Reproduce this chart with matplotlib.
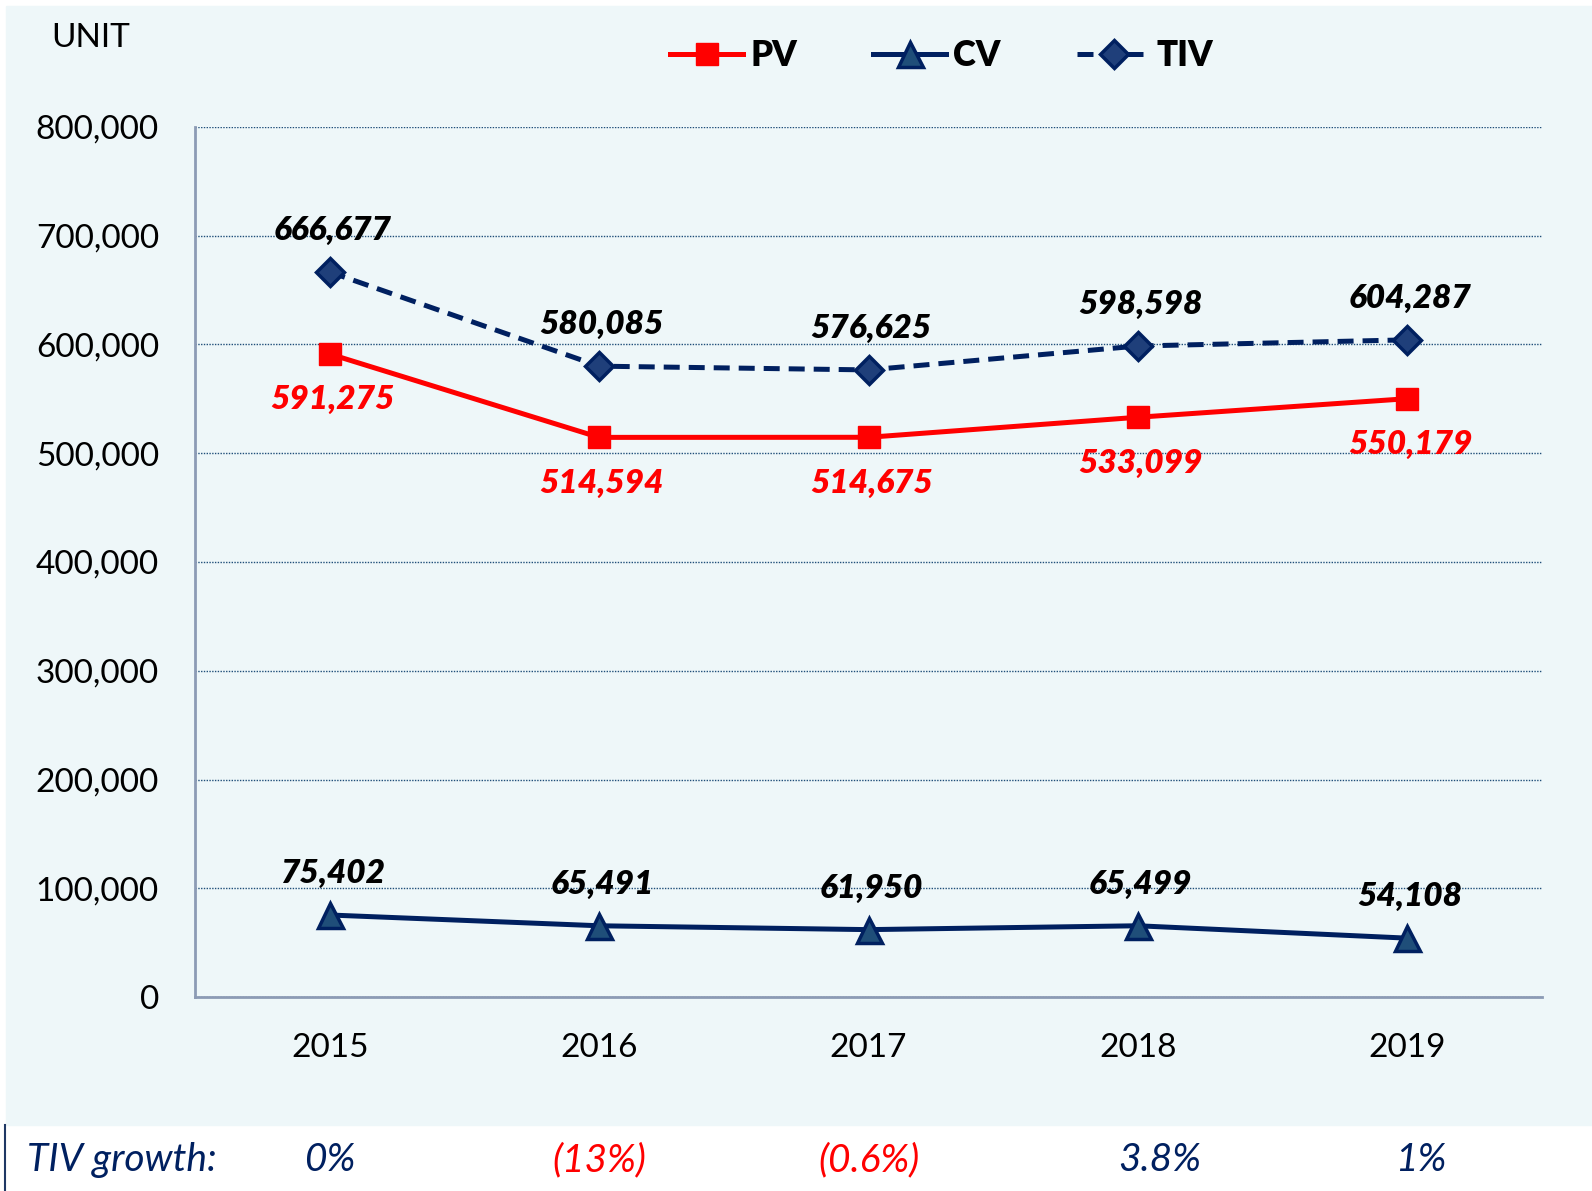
import matplotlib
matplotlib.use("Agg")
import matplotlib.pyplot as plt
import matplotlib.patches as mpatches
import matplotlib.transforms as mtransforms
from matplotlib.ticker import FuncFormatter, MultipleLocator

plt.rcParams['font.family'] = ['Lato', 'DejaVu Sans']

years = ['2015', '2016', '2017', '2018', '2019']
pv = [591275, 514594, 514675, 533099, 550179]
cv = [75402, 65491, 61950, 65499, 54108]
tiv = [666677, 580085, 576625, 598598, 604287]
growth = ['0%', '(13%)', '(0.6%)', '3.8%', '1%']
growth_shift = [0, 0, 0, 0.08, 0.05]

navy = '#002060'
red = '#FF0000'
panel = '#EEF7F9'
fs = 24

fig = plt.figure(figsize=(15.92, 11.91), dpi=100)
W, H = 1592, 1191

# light panel behind chart, white strip at the bottom
fig.patches.append(mpatches.Rectangle((6 / W, 1 - 1125 / H), 1 - 6 / W, (1125 - 6) / H,
                                      transform=fig.transFigure, color=panel, zorder=-10))
fig.lines.append(plt.Line2D([5 / W, 5 / W], [0, 1 - 1125 / H], transform=fig.transFigure,
                            color='#1F3864', lw=1.5))

ax = fig.add_axes([195 / W, 1 - 997 / H, (1542 - 195) / W, (997 - 127) / H])
ax.patch.set_alpha(0)

x = list(range(len(years)))
ax.plot(x, tiv, color=navy, lw=3.6, ls=(0, (3.2, 1.8)), marker='D', ms=14,
        mfc='#1F3F7A', mec=navy, mew=2.5, label='TIV', zorder=4)
ax.plot(x, pv, color=red, lw=3.6, marker='s', ms=16, mfc=red, mec=red,
        label='PV', zorder=5)
ax.plot(x, cv, color=navy, lw=3.6, marker='^', ms=18, mfc='#1F4E79', mec=navy, mew=2.5,
        label='CV', zorder=5)

lab = dict(fontsize=fs, fontweight='heavy', fontstyle='italic', ha='center', va='center',
           textcoords='offset points')
for i in x:
    ax.annotate(f'{tiv[i]:,}', (i, tiv[i]), xytext=(2, 30), color='black', **lab)
    ax.annotate(f'{pv[i]:,}', (i, pv[i]), xytext=(2, -33), color=red, **lab)
    ax.annotate(f'{cv[i]:,}', (i, cv[i]), xytext=(2, 30), color='black', **lab)

ax.set_xlim(-0.5, 4.5)
ax.set_ylim(0, 800000)
ax.set_xticks(x)
ax.set_xticklabels(years)
ax.yaxis.set_major_locator(MultipleLocator(100000))
ax.yaxis.set_major_formatter(FuncFormatter(lambda v, p: f'{int(v):,}'))
ax.tick_params(axis='y', length=0, pad=26, labelsize=fs)
ax.tick_params(axis='x', length=0, pad=26, labelsize=fs)
ax.grid(axis='y', color='#1F4E79', ls=(0, (1, 1)), lw=1)
ax.set_axisbelow(True)
for s in ['top', 'right']:
    ax.spines[s].set_visible(False)
for s in ['left', 'bottom']:
    ax.spines[s].set_color('#8C9BB5')
    ax.spines[s].set_linewidth(2)

handles, labels = ax.get_legend_handles_labels()
order = [1, 2, 0]
leg = fig.legend([handles[k] for k in order], [labels[k] for k in order],
                 loc='center', bbox_to_anchor=(942 / W, 1 - 56 / H), ncol=3, frameon=False,
                 handlelength=2.1, handletextpad=0.2, columnspacing=2.2,
                 prop={'size': fs + 1, 'weight': 'heavy'})

fig.text(51 / W, 1 - 38 / H, 'UNIT', fontsize=fs, va='center', ha='left')

fig.text(27 / W, 1 - 1160 / H, 'TIV growth:', fontsize=28, fontstyle='italic',
         color=navy, va='center', ha='left')
tr = mtransforms.blended_transform_factory(ax.transData, fig.transFigure)
for i, g in enumerate(growth):
    c = red if g.startswith('(') else navy
    ax.text(i + growth_shift[i], 1 - 1160 / H, g, transform=tr, fontsize=28,
            fontstyle='italic', color=c, ha='center', va='center', clip_on=False)

fig.savefig('out.png', dpi=100)
